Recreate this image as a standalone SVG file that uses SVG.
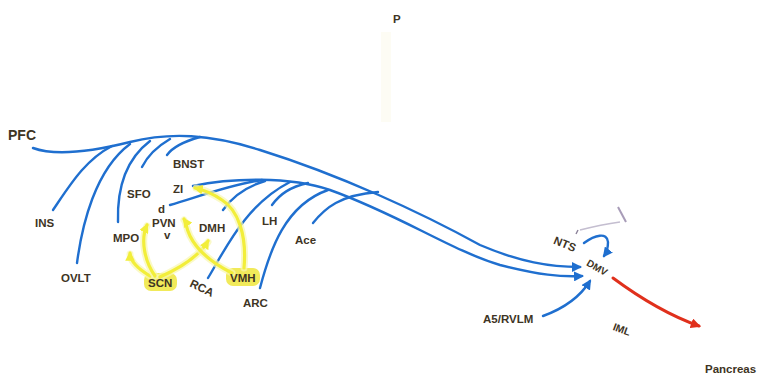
<svg xmlns="http://www.w3.org/2000/svg" width="760" height="384" viewBox="0 0 760 384">
  <defs>
    <style>
      .lbl { font-family: "Liberation Sans", Arial, sans-serif; font-weight: bold; font-size: 11.5px; fill: #3e3424; }
      .blue { fill: none; stroke: #1f6fcf; stroke-width: 2.4; stroke-linecap: round; }
      .yel { fill: none; stroke: #f2ee3a; stroke-width: 3.2; stroke-linecap: round; }
      .halo { fill: none; stroke: #f8f6b0; stroke-width: 7; stroke-linecap: round; opacity: 0.7; }
      .red { fill: none; stroke: #e0301c; stroke-width: 3; stroke-linecap: round; }
      .hl { fill: #f1ea5a; }
    </style>
    <marker id="ab" viewBox="0 0 10 10" refX="8" refY="5" markerWidth="4.2" markerHeight="4.2" orient="auto" markerUnits="strokeWidth">
      <path d="M0,0 L10,5 L0,10 z" fill="#1f6fcf"/>
    </marker>
    <marker id="ay" viewBox="0 0 10 10" refX="8" refY="5" markerWidth="3" markerHeight="3" orient="auto" markerUnits="strokeWidth">
      <path d="M0,0 L10,5 L0,10 z" fill="#f2ee3a"/>
    </marker>
    <marker id="ar" viewBox="0 0 10 10" refX="8" refY="5" markerWidth="3.4" markerHeight="3.4" orient="auto" markerUnits="strokeWidth">
      <path d="M0,0 L10,5 L0,10 z" fill="#e0301c"/>
    </marker>
  </defs>

  <rect width="760" height="384" fill="#ffffff"/>
  <!-- faint column under P -->
  <rect x="381" y="32" width="10" height="90" fill="#fdfcf4"/>

  <!-- highlighted label backgrounds -->
  <g id="highlights">
    <rect class="hl" x="144" y="273" width="33" height="18" rx="7"/>
    <rect class="hl" x="226" y="268" width="34" height="18" rx="7"/>
  </g>

  <g id="connectors">
    <!-- PFC trunk and afferent branches -->
    <path class="blue" marker-end="url(#ab)" d="M33,148 C55,156 90,152 130,142 C170,132 210,134 260,150 C340,175 420,212 480,245 C520,262 550,267 580,267"/>
    <path class="blue" d="M53,210 C70,185 85,160 112,146"/>
    <path class="blue" d="M77,263 C82,225 95,170 130,144"/>
    <path class="blue" d="M118,222 C117,190 125,160 150,141"/>
    <path class="blue" d="M142,167 C148,155 158,146 170,139"/>
    <path class="blue" d="M167,155 C172,148 182,142 200,137"/>

    <!-- ZI trunk and afferent branches -->
    <path class="blue" marker-end="url(#ab)" d="M193,186 C230,178 290,176 330,190 C400,215 450,250 500,265 C540,275 560,277 582,276"/>
    <path class="blue" d="M170,205 C195,198 225,186 262,180"/>
    <path class="blue" d="M223,210 C232,197 245,187 265,181"/>
    <path class="blue" d="M208,278 C225,250 245,205 290,182"/>
    <path class="blue" d="M272,205 C280,194 290,187 308,183"/>
    <path class="blue" d="M260,288 C270,250 285,205 328,190"/>
    <path class="blue" d="M313,223 C325,208 340,195 378,192"/>

    <!-- brainstem inputs to DMV -->
    <path class="blue" marker-end="url(#ab)" d="M543,316 C565,308 580,297 590,281"/>
    <path class="blue" marker-end="url(#ab)" d="M584,243 C595,235 607,232 608,242 C608,248 607,252 604,256"/>
    <path fill="none" stroke="#c4bed0" stroke-width="1.6" d="M580,230 C592,227 606,224 620,222"/>
    <path fill="none" stroke="#a89cb8" stroke-width="2" d="M618,207 L626,222"/>
    <path fill="none" stroke="#8a8098" stroke-width="1.4" d="M576,234 L578,230"/>

    <!-- DMV efferent to IML -->
    <path class="red" marker-end="url(#ar)" d="M613,278 C640,298 668,315 699,326"/>

    <!-- SCN / VMH connections -->
    <path class="halo" d="M150,276 C140,270 130,262 130,254"/>
    <path class="yel" marker-end="url(#ay)" d="M150,276 C140,270 130,262 130,253"/>
    <path class="halo" d="M155,276 C145,262 140,240 147,226"/>
    <path class="yel" marker-end="url(#ay)" d="M155,276 C145,262 140,240 147,225"/>
    <path class="halo" d="M160,277 C180,268 200,255 208,242"/>
    <path class="yel" marker-end="url(#ay)" d="M160,277 C180,268 200,255 208,241"/>
    <path class="halo" d="M232,273 C210,262 196,248 190,236 C186,228 186,222 184,220"/>
    <path class="yel" marker-end="url(#ay)" d="M232,273 C210,262 196,248 190,236 C186,228 186,222 184,219"/>
    <path class="halo" d="M244,268 C247,235 238,210 222,200 C212,193 204,190 196,188"/>
    <path class="yel" marker-end="url(#ay)" d="M244,268 C247,235 238,210 222,200 C212,193 204,190 195,188"/>
  </g>

  <g id="labels">
    <g id="n-P"><text class="lbl" x="393" y="23" font-size="11">P</text></g>
    <g id="n-PFC"><text class="lbl" x="8" y="140" style="font-size:14px">PFC</text></g>
    <g id="n-BNST"><text class="lbl" x="173" y="168">BNST</text></g>
    <g id="n-SFO"><text class="lbl" x="127" y="198">SFO</text></g>
    <g id="n-ZI"><text class="lbl" x="173" y="193">ZI</text></g>
    <g id="n-d"><text class="lbl" x="158" y="213">d</text></g>
    <g id="n-PVN"><text class="lbl" x="152" y="227">PVN</text></g>
    <g id="n-v"><text class="lbl" x="164" y="239">v</text></g>
    <g id="n-DMH"><text class="lbl" x="199" y="232">DMH</text></g>
    <g id="n-MPO"><text class="lbl" x="113" y="242">MPO</text></g>
    <g id="n-INS"><text class="lbl" x="35" y="227">INS</text></g>
    <g id="n-OVLT"><text class="lbl" x="61" y="282">OVLT</text></g>
    <g id="n-SCN"><text class="lbl" x="148" y="287">SCN</text></g>
    <g id="n-RCA"><text class="lbl" x="202" y="292" text-anchor="middle" transform="rotate(25 202 288)">RCA</text></g>
    <g id="n-VMH"><text class="lbl" x="230" y="282">VMH</text></g>
    <g id="n-LH"><text class="lbl" x="262" y="225">LH</text></g>
    <g id="n-Ace"><text class="lbl" x="295" y="244">Ace</text></g>
    <g id="n-ARC"><text class="lbl" x="243" y="307">ARC</text></g>
    <g id="n-NTS"><text class="lbl" x="565" y="248" text-anchor="middle" transform="rotate(22 565 244)">NTS</text></g>
    <g id="n-DMV"><text class="lbl" x="597" y="271" text-anchor="middle" style="font-size:10px" transform="rotate(30 597 268)">DMV</text></g>
    <g id="n-A5RVLM"><text class="lbl" x="483" y="323">A5/RVLM</text></g>
    <g id="n-IML"><text class="lbl" x="622" y="333" text-anchor="middle" style="font-size:10.5px" transform="rotate(20 622 329)">IML</text></g>
    <g id="n-Pancreas"><text class="lbl" x="705" y="373">Pancreas</text></g>
  </g>
</svg>
